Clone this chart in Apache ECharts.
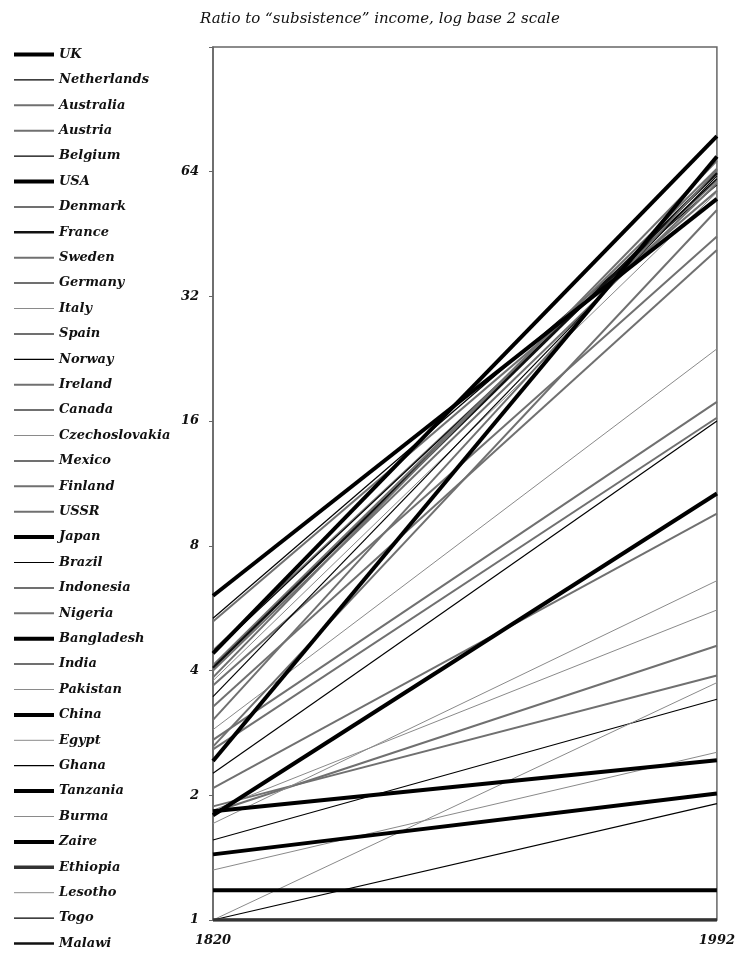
<!DOCTYPE html>
<html>
<head>
<meta charset="utf-8">
<script src="https://cdn.jsdelivr.net/npm/echarts@6/dist/echarts.min.js"></script>
<style>
  html, body { margin: 0; padding: 0; background: #fff; overflow: hidden; }
  #chart { width: 738px; height: 954px; }
</style>
</head>
<body>
<div id="chart"></div>
<script>
// countries, in legend order (ranked by 1820 level)
var countries = ['UK', 'Netherlands', 'Australia', 'Austria', 'Belgium', 'USA', 'Denmark', 'France',
    'Sweden', 'Germany', 'Italy', 'Spain', 'Norway', 'Ireland', 'Canada', 'Czechoslovakia', 'Mexico',
    'Finland', 'USSR', 'Japan', 'Brazil', 'Indonesia', 'Nigeria', 'Bangladesh', 'India', 'Pakistan',
    'China', 'Egypt', 'Ghana', 'Tanzania', 'Burma', 'Zaire', 'Ethiopia', 'Lesotho', 'Togo', 'Malawi'];

// ratio to subsistence income, 1820
var ratio1820 = [6.06, 5.35, 5.25, 4.47, 4.42, 4.40, 4.12, 4.06,
    4.00, 3.85, 3.78, 3.68, 3.46, 3.27, 3.04, 2.88, 2.72,
    2.62, 2.58, 2.42, 2.26, 2.08, 1.88, 1.83, 1.82, 1.84,
    1.79, 1.71, 1.56, 1.44, 1.32, 1.18, 1.00, 1.00, 1.00, 1.00];

// ratio to subsistence income, 1992
var ratio1992 = [55.0, 59.5, 57.5, 61.0, 61.5, 77.9, 65.0, 63.5,
    60.0, 68.0, 57.0, 44.6, 62.5, 41.4, 64.5, 23.9, 17.8,
    51.7, 16.3, 69.6, 16.0, 9.57, 3.89, 2.43, 4.59, 5.6,
    10.7, 6.59, 3.41, 2.02, 2.54, 1.18, 1.00, 3.74, 1.91, 1.00];

var years = [1820, 1992];
var yTicks = [1, 2, 4, 8, 16, 32, 64];

// line look per country: thick black, black, grey, light grey
var styles = {
    thick: { color: '#000', width: 4 },
    heavy: { color: '#111', width: 2.6 },
    black: { color: '#000', width: 1.2 },
    grey: { color: '#707070', width: 2 },
    dark: { color: '#333', width: 3.5 },
    light: { color: '#8a8a8a', width: 1 }
};
var lineKind = ['thick', 'black', 'grey', 'grey', 'black', 'thick', 'grey', 'heavy',
    'grey', 'grey', 'light', 'grey', 'black', 'grey', 'grey', 'light', 'grey',
    'grey', 'grey', 'thick', 'black', 'grey', 'grey', 'thick', 'grey', 'light',
    'thick', 'light', 'black', 'thick', 'light', 'thick', 'dark', 'light', 'black', 'heavy'];

var fontFam = '"DejaVu Serif", "Liberation Serif", serif';

var series = countries.map(function (name, i) {
    var st = styles[lineKind[i]];
    return {
        name: name,
        type: 'line',
        symbol: 'none',
        silent: true,
        animation: false,
        z: st.width >= 3 ? 3 : 2,
        lineStyle: { color: st.color, width: st.width },
        itemStyle: { color: st.color },
        data: [[years[0], ratio1820[i]], [years[1], ratio1992[i]]]
    };
});

var chart = echarts.init(document.getElementById('chart'));

chart.setOption({
    backgroundColor: '#fff',
    animation: false,
    title: {
        text: 'Ratio to \u201csubsistence\u201d income, log base 2 scale',
        left: 195,
        top: 7,
        textStyle: {
            fontFamily: fontFam,
            fontStyle: 'italic',
            fontWeight: 'normal',
            fontSize: 15,
            color: '#111'
        }
    },
    legend: {
        orient: 'vertical',
        left: 12,
        top: 48,
        padding: 0,
        itemWidth: 40,
        itemHeight: 13,
        itemGap: 12.4,
        selectedMode: false,
        data: countries,
        lineStyle: { width: 'inherit' },
        itemStyle: { opacity: 0 },
        textStyle: {
            fontFamily: fontFam,
            fontStyle: 'italic',
            fontWeight: 'bold',
            fontSize: 13,
            color: '#111'
        }
    },
    grid: {
        left: 213,
        right: 18,
        top: 47,
        bottom: 34,
        show: true,
        borderColor: '#666',
        borderWidth: 1.5
    },
    xAxis: {
        type: 'value',
        min: 1820,
        max: 1992,
        interval: 172,
        splitLine: { show: false },
        axisLine: { show: false },
        axisTick: { show: false },
        axisLabel: {
            margin: 14,
            fontFamily: fontFam,
            fontStyle: 'italic',
            fontWeight: 'bold',
            fontSize: 13,
            color: '#111',
            formatter: function (v) { return String(v); }
        }
    },
    yAxis: {
        type: 'log',
        logBase: 2,
        min: 1,
        max: 127.9,
        splitLine: { show: false },
        axisLine: { show: true, lineStyle: { color: '#666', width: 1.5 } },
        axisTick: { show: true, length: 4, lineStyle: { color: '#666' } },
        axisLabel: {
            margin: 14,
            fontFamily: fontFam,
            fontStyle: 'italic',
            fontWeight: 'bold',
            fontSize: 13,
            color: '#111',
            formatter: function (v) {
                return yTicks.indexOf(v) >= 0 ? String(v) : '';
            }
        }
    },
    series: series
});
</script>
</body>
</html>
